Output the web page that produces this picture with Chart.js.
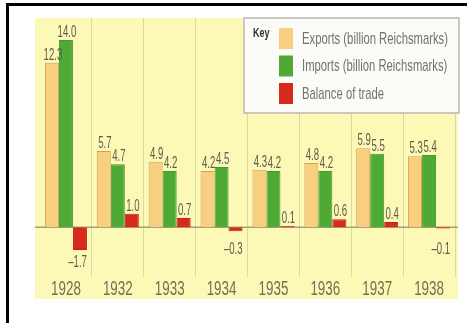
<!DOCTYPE html>
<html>
<head>
<meta charset="utf-8">
<script src="https://cdn.jsdelivr.net/npm/chart.js@4/dist/chart.umd.min.js"></script>
<style>
    html, body { margin: 0; padding: 0; background: #fff; }
    #frame {
        position: absolute; left: 6px; top: 3px; width: 461px; height: 320px;
        border-top: 3px solid #000; border-left: 3px solid #000; box-sizing: border-box;
    }
    #wrap { position: absolute; left: 0; top: 0; width: 467px; height: 323px; }
</style>
</head>
<body>
<div id="frame"></div>
<div id="wrap"><canvas id="tradeChart" width="467" height="323"></canvas></div>
<script>
// Data
const years = ['1928', '1932', '1933', '1934', '1935', '1936', '1937', '1938'];
const exportsBn = [12.3, 5.7, 4.9, 4.2, 4.3, 4.8, 5.9, 5.3];
const importsBn = [14.0, 4.7, 4.2, 4.5, 4.2, 4.2, 5.5, 5.4];
const tradeBalance = [-1.7, 1.0, 0.7, -0.3, 0.1, 0.6, 0.4, -0.1];
const seriesLabels = ['Exports (billion Reichsmarks)', 'Imports (billion Reichsmarks)', 'Balance of trade'];

const sans = '"Liberation Sans", Arial, sans-serif';

// draw condensed text (the original uses a very narrow typeface)
function squeezeText(ctx, text, x, y, sx) {
    ctx.save();
    ctx.translate(x, y);
    ctx.scale(sx, 1);
    ctx.fillText(text, 0, 0);
    ctx.restore();
}

// Yellow panel behind plot and year labels, plus the zero line
const panelPlugin = {
    id: 'panel',
    beforeDraw(chart) {
        const { ctx, chartArea } = chart;
        ctx.save();
        ctx.fillStyle = '#fcf8b6';
        ctx.fillRect(chartArea.left - 5, chartArea.top, chartArea.right - chartArea.left + 8, chart.scales.x.bottom - chartArea.top - 2);
        ctx.restore();
    },
    beforeDatasetsDraw(chart) {
        const { ctx, chartArea } = chart;
        const y0 = chart.scales.y.getPixelForValue(0);
        ctx.save();
        ctx.strokeStyle = '#a49e78';
        ctx.lineWidth = 1.5;
        ctx.beginPath();
        ctx.moveTo(chartArea.left - 5, y0);
        ctx.lineTo(chartArea.right + 3, y0);
        ctx.stroke();
        ctx.restore();
    }
};

// Year labels, condensed, centred under each category
const yearLabels = {
    id: 'yearLabels',
    afterDraw(chart) {
        const { ctx } = chart;
        const x = chart.scales.x;
        ctx.save();
        ctx.font = '20px ' + sans;
        ctx.fillStyle = '#74715a';
        ctx.textAlign = 'center';
        ctx.textBaseline = 'middle';
        x.ticks.forEach((t, i) => {
            squeezeText(ctx, chart.data.labels[i], x.getPixelForTick(i), x.top + 23 + 12, 0.67);
        });
        ctx.restore();
    }
};

// Value labels above / below the bars
const valueLabels = {
    id: 'valueLabels',
    afterDatasetsDraw(chart) {
        const ctx = chart.ctx;
        const zeroY = chart.scales.y.getPixelForValue(0);
        ctx.save();
        ctx.font = '16px ' + sans;
        ctx.fillStyle = '#5e5b4c';
        chart.data.datasets.forEach((ds, di) => {
            chart.getDatasetMeta(di).data.forEach((bar, i) => {
                const v = ds.data[i];
                const txt = v.toFixed(1).replace('-', '\u2013');
                if (v >= 0) {
                    ctx.textAlign = 'center';
                    ctx.textBaseline = 'alphabetic';
                    squeezeText(ctx, txt, bar.x + 1, bar.y - 3, 0.6);
                } else {
                    ctx.textAlign = 'right';
                    ctx.textBaseline = 'top';
                    const y = Math.max(bar.y + 5, zeroY + 14);
                    squeezeText(ctx, txt, bar.x + bar.width / 2, y, 0.6);
                }
            });
        });
        ctx.restore();
    }
};

// Key box in the upper right
const keyBox = {
    id: 'keyBox',
    afterDraw(chart) {
        const ctx = chart.ctx;
        const x0 = 244, y0 = 18, w = 215, h = 95;
        ctx.save();
        ctx.fillStyle = '#fbfbf8';
        ctx.strokeStyle = '#b9b9b2';
        ctx.lineWidth = 1.5;
        ctx.fillRect(x0, y0, w, h);
        ctx.strokeRect(x0, y0, w, h);

        ctx.fillStyle = '#333';
        ctx.font = 'bold 12px ' + sans;
        ctx.textAlign = 'left';
        ctx.textBaseline = 'middle';
        squeezeText(ctx, 'Key', 253, 34, 0.75);

        ctx.font = '17px ' + sans;
        const longest = Math.max(...chart.data.datasets.map(d => ctx.measureText(d.label).width));
        const sx = Math.min(1, 146 / longest);
        chart.data.datasets.forEach((ds, i) => {
            const top = 28 + i * 27.5;
            ctx.fillStyle = ds.backgroundColor;
            ctx.fillRect(279, top, 14, 21);
            ctx.fillStyle = '#73736d';
            squeezeText(ctx, ds.label, 302, top + 11, sx);
        });
        ctx.restore();
    }
};

const chart = new Chart(document.getElementById('tradeChart'), {
    type: 'bar',
    data: {
        labels: years,
        datasets: [
            {
                label: seriesLabels[0],
                data: exportsBn,
                backgroundColor: '#f8cf80',
                borderColor: '#d3a257',
                borderWidth: 1
            },
            {
                label: seriesLabels[1],
                data: importsBn,
                backgroundColor: '#4fa935',
                borderColor: '#45992d',
                borderWidth: 1
            },
            {
                label: seriesLabels[2],
                data: tradeBalance,
                backgroundColor: '#d7291c',
                borderColor: '#c02018',
                borderWidth: 1
            }
        ]
    },
    options: {
        responsive: false,
        animation: false,
        layout: { padding: { left: 40, right: 12, top: 18, bottom: 22 } },
        datasets: { bar: { categoryPercentage: 0.81, barPercentage: 1.0 } },
        plugins: {
            legend: { display: false },
            tooltip: { enabled: false }
        },
        scales: {
            x: {
                grid: {
                    offset: true,
                    color: c => (c.index === 0 || c.index >= years.length) ? 'rgba(0,0,0,0)' : '#dcd8a6',
                    lineWidth: 1,
                    drawTicks: true,
                    tickLength: 23
                },
                border: { display: false },
                ticks: {
                    padding: 0,
                    color: 'rgba(0,0,0,0)',
                    font: { family: sans, size: 20 }
                }
            },
            y: {
                min: -2.0,
                max: 15.64,
                afterBuildTicks: scale => { scale.ticks = [{ value: 0 }]; },
                grid: { display: false, drawTicks: false },
                border: { display: false },
                ticks: { display: false }
            }
        }
    },
    plugins: [panelPlugin, valueLabels, yearLabels, keyBox]
});
</script>
</body>
</html>
